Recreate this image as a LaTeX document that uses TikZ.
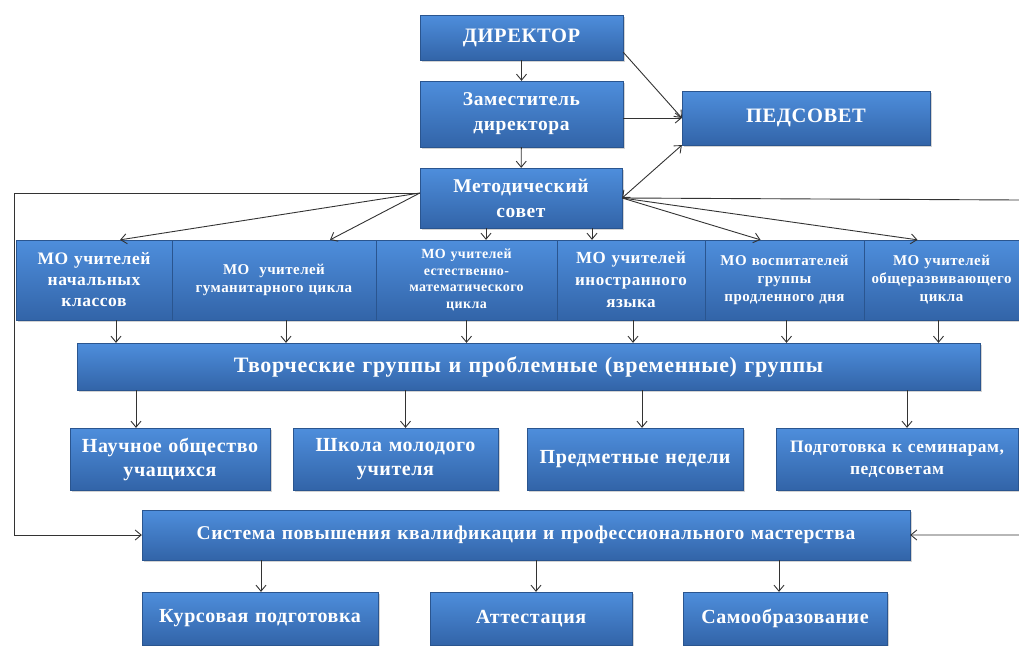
\documentclass[tikz,border=0pt]{standalone}
\usepackage{fontspec}
\setmainfont{Liberation Serif}[LetterSpace=3]
\usetikzlibrary{arrows.meta,shadows}

\definecolor{blokTop}{RGB}{78,142,220}
\definecolor{blokBot}{RGB}{50,100,168}

\tikzset{
    blok/.style={rectangle, inner xsep=0pt, inner ysep=1pt, align=center, text=white,
        top color=blokTop, bottom color=blokBot, draw=blokBot!85!black, line width=0.3pt,
        drop shadow={shadow xshift=2pt, shadow yshift=-2pt, opacity=0.35}},
    sz/.style 2 args={minimum width=#1pt, text width=#1pt, minimum height=#2pt},
    fnt/.style 2 args={font=\bfseries\fontsize{#1}{#2}\selectfont},
    arr/.style={draw=black!80, line width=0.9pt, -{Straight Barb[length=6pt,width=10pt]}},
    arrs/.style={arr, {Straight Barb[length=6pt,width=10pt]}-{Straight Barb[length=6pt,width=10pt]}},
}

\begin{document}
\begin{tikzpicture}[x=1pt, y=-1pt]
    \useasboundingbox (0,0) rectangle (1019,645);

    \node[blok, sz={203}{45}, fnt={20.5}{22}] (dir) at (521.5,37.5) {ДИРЕКТОР};
    \node[blok, sz={203}{66}, fnt={19.5}{25}] (zam) at (521.5,114) {Заместитель\\директора};
    \node[blok, sz={248}{54}, fnt={20.5}{22}] (ped) at (806,118) {ПЕДСОВЕТ};
    \node[blok, sz={202}{60}, fnt={19.5}{25}] (met) at (521,198) {Методический\\совет};

    \node[blok, sz={156}{80}, fnt={17.5}{21}] (mo1) at (94,280) {МО учителей\\начальных\\классов};
    \node[blok, sz={204}{80}, fnt={15}{18}] (mo2) at (274,280) {МО \ учителей\\гуманитарного цикла};
    \node[blok, sz={181}{80}, fnt={14}{16.5}] (mo3) at (466.5,280) {МО учителей\\естественно-\\математического\\цикла};
    \node[blok, sz={148}{80}, fnt={17}{22}] (mo4) at (631,280) {МО учителей\\иностранного\\языка};
    \node[blok, sz={159}{80}, fnt={15}{18}] (mo5) at (784.5,280) {МО воспитателей\\группы\\продленного дня};
    \node[blok, sz={155}{80}, fnt={15}{18}] (mo6) at (941.5,280) {МО учителей\\общеразвивающего\\цикла};

    \node[blok, sz={903}{47}, fnt={22}{24}] (tvor) at (528.5,366.5) {Творческие группы и проблемные (временные) группы};

    \node[blok, sz={200}{62}, fnt={20}{24}] (nau) at (170,459) {Научное общество\\учащихся};
    \node[blok, sz={205}{62}, fnt={20}{24}] (shk) at (395.5,459) {Школа молодого\\учителя};
    \node[blok, sz={216}{62}, fnt={20}{24}] (pre) at (635,459) {Предметные недели};
    \node[blok, sz={242}{62}, fnt={17.5}{22}] (pod) at (897,459) {Подготовка к семинарам,\\педсоветам};

    \node[blok, sz={768}{50}, fnt={19.5}{22}] (sys) at (526,535) {Система повышения квалификации и профессионального мастерства};

    \node[blok, sz={236}{53}, fnt={20}{22}] (kur) at (260,618.5) {Курсовая подготовка};
    \node[blok, sz={202}{53}, fnt={20}{22}] (att) at (531,618.5) {Аттестация};
    \node[blok, sz={204}{53}, fnt={20}{22}] (sam) at (785,618.5) {Самообразование};

    \coordinate (lft) at (14,193);
    \coordinate (rgt) at (1019.5,200);

    \draw[arr] (dir) -- (zam);
    \draw[arr] ([yshift=8pt]dir.south east) -- (ped.west);
    \draw[arr] (zam.east |- ped.west) -- (ped.west);
    \draw[arr] (zam) -- (met);
    \draw[arrs] (met.east) -- (ped.south west);

    \draw[arr] ([yshift=5pt]met.west) -- (lft) |- (sys.west);
    \draw[arr] (met.east) -- (rgt) |- (sys.east);

    \draw[arr] ([yshift=5pt]met.west) -- ([xshift=26pt]mo1.north);
    \draw[arr] ([yshift=5pt]met.west) -- ([xshift=56pt]mo2.north);
    \draw[arr] ([xshift=-35pt]met.south) -- ([xshift=-35pt]met.south |- mo3.north);
    \draw[arr] ([xshift=71pt]met.south) -- ([xshift=71pt]met.south |- mo4.north);
    \draw[arr] (met.east) -- ([xshift=-24pt]mo5.north);
    \draw[arr] (met.east) -- ([xshift=-24pt]mo6.north);

    \draw[arr] ([xshift=22pt]mo1.south) -- ([xshift=22pt]mo1.south |- tvor.north);
    \draw[arr] ([xshift=12pt]mo2.south) -- ([xshift=12pt]mo2.south |- tvor.north);
    \draw[arr] (mo3.south) -- (mo3.south |- tvor.north);
    \draw[arr] ([xshift=2pt]mo4.south) -- ([xshift=2pt]mo4.south |- tvor.north);
    \draw[arr] ([xshift=2pt]mo5.south) -- ([xshift=2pt]mo5.south |- tvor.north);
    \draw[arr] ([xshift=-3pt]mo6.south) -- ([xshift=-3pt]mo6.south |- tvor.north);

    \draw[arr] ([xshift=-34pt]nau.north |- tvor.south) -- ([xshift=-34pt]nau.north);
    \draw[arr] ([xshift=10pt]shk.north |- tvor.south) -- ([xshift=10pt]shk.north);
    \draw[arr] ([xshift=7pt]pre.north |- tvor.south) -- ([xshift=7pt]pre.north);
    \draw[arr] ([xshift=10pt]pod.north |- tvor.south) -- ([xshift=10pt]pod.north);

    \draw[arr] ([xshift=1pt]kur.north |- sys.south) -- ([xshift=1pt]kur.north);
    \draw[arr] ([xshift=5pt]att.north |- sys.south) -- ([xshift=5pt]att.north);
    \draw[arr] ([xshift=-6pt]sam.north |- sys.south) -- ([xshift=-6pt]sam.north);
\end{tikzpicture}
\end{document}
